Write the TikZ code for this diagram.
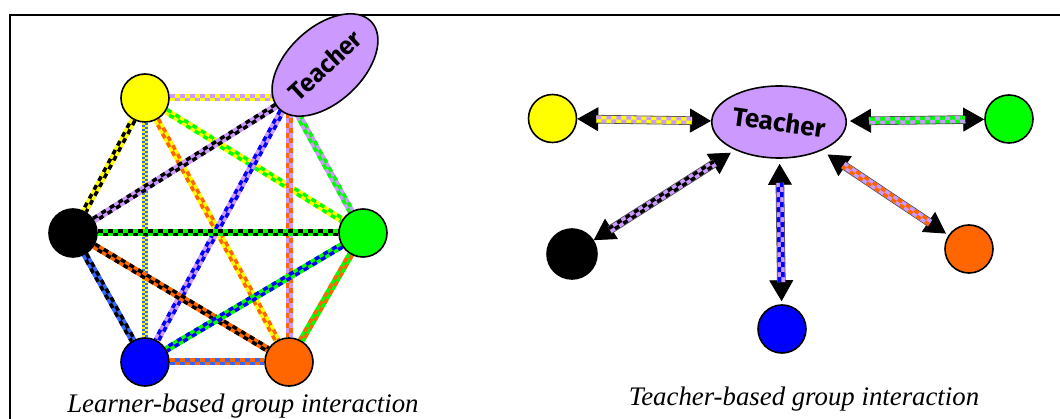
\documentclass[tikz,border=0pt]{standalone}
\usepackage{fontspec}
\setmainfont{Liberation Serif}
\newfontfamily\tfont{Fira Sans}
\usetikzlibrary{shapes.geometric,arrows.meta,backgrounds,calc}
\definecolor{lav}{HTML}{CC99FF}
\definecolor{yel}{HTML}{FFFF00}
\definecolor{grn}{HTML}{00FF00}
\definecolor{blu}{HTML}{0000FF}
\definecolor{lblu}{HTML}{3366FF}
\definecolor{org}{HTML}{FF6600}
% checkered connector: [opts]{from}{to}{colour A}{colour B}{square}{width}
\newcommand\chk[7][]{%
  \pgfmathanglebetweenpoints{\pgfpointanchor{#2}{center}}{\pgfpointanchor{#3}{center}}%
  \edef\chkang{\pgfmathresult}%
  \draw[#4, line width=#7, #1] (#2) -- (#3);
  \draw[#5, line width=#7/2, dash pattern=on #6 off #6, transform canvas={shift={(\chkang+90:#7/4)}}, #1] (#2) -- (#3);
  \draw[#5, line width=#7/2, dash pattern=on #6 off #6, dash phase=#6, transform canvas={shift={(\chkang-90:#7/4)}}, #1] (#2) -- (#3);
}
% double arrow learner <-> teacher: {from}{to}{A}{B}{gap at from}{gap at to}
\newcommand\arr[6]{%
  \draw[black, line width=0.8pt, dbltips, shorten <=#5, shorten >=#6] (#1) -- (#2);
  \draw[black!70, line width=8.6pt, shorten <=#5+19pt, shorten >=#6+19pt] (#1) -- (#2);
  \chk[shorten <=#5+19pt, shorten >=#6+19pt]{#1}{#2}{#3}{#4}{5pt}{7pt}
}
\tikzset{
  ldot/.style={circle, draw, line width=1.6pt, minimum size=48pt, inner sep=0pt},
  teach/.style={ellipse, draw, line width=1.6pt, fill=lav, inner sep=0pt,
    font=\tfont\bfseries\fontsize{25}{25}\selectfont},
  captxt/.style={font=\itshape\fontsize{26.8}{30}\selectfont, anchor=base},
  dbltips/.style={{Triangle[length=21pt,width=24pt]}-{Triangle[length=21pt,width=24pt]}},
}
\begin{document}
\begin{tikzpicture}[x=1pt,y=-1pt]
\useasboundingbox (0,0) rectangle (1060,419);
\draw[line width=2pt] (10,419) -- (10,15) -- (1060,15);

% ---------- left: learner-based ----------
\node[ldot, fill=yel] (Y) at (145,98) {};
\node[ldot, fill=black] (K) at (73,233) {};
\node[ldot, fill=grn] (G) at (363,233) {};
\node[ldot, fill=blu] (B) at (145,362) {};
\node[ldot, fill=org] (O) at (289,362) {};
\coordinate (TV) at (289,98);
\node[teach, minimum width=122pt, minimum height=75pt, rotate=43] (TL) at (325,65) {Teacher};

\begin{pgfonlayer}{background}
\chk{Y}{TV}{yel}{lav}{5pt}{7pt}
\chk{Y}{K}{yel}{black}{5pt}{7pt}
\chk{Y}{G}{yel}{grn}{5pt}{7pt}
\chk{Y}{B}{yel}{lblu}{2pt}{6pt}
\chk{Y}{O}{yel}{org}{5pt}{7pt}
\chk{TV}{K}{lav}{black}{5pt}{7pt}
\chk{TV}{G}{lav}{grn}{5pt}{7pt}
\chk{TV}{B}{lav}{blu}{5pt}{7pt}
\chk{TV}{O}{lav}{org}{5pt}{7pt}
\chk{K}{G}{grn}{black}{5pt}{7pt}
\chk{K}{B}{lblu}{black}{5pt}{7pt}
\chk{K}{O}{org}{black}{5pt}{7pt}
\chk{G}{B}{grn}{blu}{5pt}{7pt}
\chk{G}{O}{grn}{org}{5pt}{7pt}
\chk{B}{O}{lblu}{org}{5pt}{7pt}
\end{pgfonlayer}

\node[captxt] (c1) at (243,412) {Learner-based group interaction};

% ---------- right: teacher-based ----------
\node[teach, minimum width=120pt, minimum height=72pt, font=\tfont\bfseries\fontsize{26}{26}\selectfont] (TR) at (779,122) {\rotatebox{-8}{Teacher}};
\node[ldot, fill=yel] (Y2) at (552.5,118.5) {};
\node[ldot, fill=grn] (G2) at (1009,119) {};
\node[ldot, fill=black, minimum size=50pt] (K2) at (572,254) {};
\node[ldot, fill=blu] (B2) at (782,329) {};
\node[ldot, fill=org] (O2) at (969,249) {};

\begin{pgfonlayer}{background}
\arr{Y2}{TR}{yel}{lav}{0pt}{0pt}
\arr{G2}{TR}{grn}{lav}{0pt}{3pt}
\arr{K2}{TR}{lav}{black}{0pt}{5pt}
\arr{B2}{TR}{lav}{blu}{3pt}{5pt}
\arr{O2}{TR}{lav}{org}{3pt}{7pt}
\end{pgfonlayer}

\node[captxt] (c2) at (804,405) {Teacher-based group interaction};
\end{tikzpicture}
\end{document}
